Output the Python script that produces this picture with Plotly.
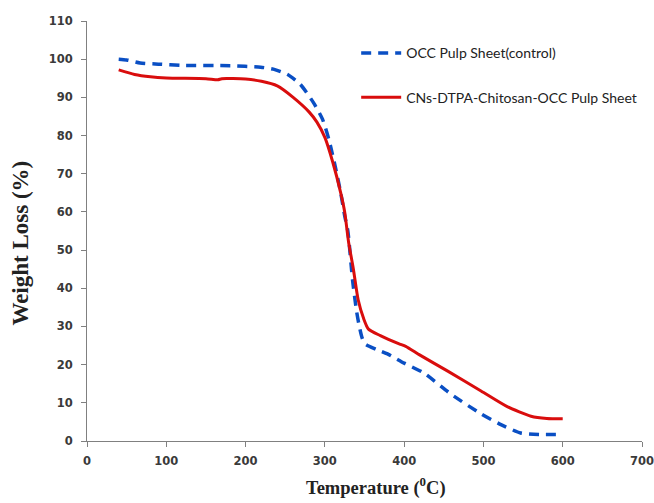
import plotly.graph_objects as go

# Temperature (°C) and weight (%)
t_control = [40, 50, 67, 90, 118, 181, 219, 235, 253, 269, 286, 297, 305, 313, 320, 325, 329, 335, 340, 343, 347, 351, 365, 379, 400, 425, 459, 497, 520, 547, 570, 600]
w_control = [100, 99.8, 99, 98.7, 98.4, 98.3, 97.9, 97.4, 96, 93.4, 88.5, 84.3, 79, 72, 65, 59, 55, 42, 34, 30.5, 27, 25.4, 24, 22.8, 20.4, 17.8, 12.3, 7.1, 4.5, 2.1, 1.7, 1.7]

t_treated = [40, 60, 80, 100, 150, 165, 170, 200, 220, 240, 260, 280, 290, 300, 310, 320, 325, 330, 336, 342, 349, 355, 370, 393, 402, 420, 455, 497, 530, 560, 580, 600]
w_treated = [97.2, 96, 95.4, 95.1, 94.9, 94.6, 94.9, 94.8, 94.2, 93, 90, 86.2, 83.5, 79.5, 73, 65, 60, 52, 45, 37, 32, 29.3, 27.6, 25.5, 24.8, 22.5, 18.3, 13.1, 9, 6.5, 5.9, 5.8]

names = ["OCC Pulp Sheet(control)", "CNs-DTPA-Chitosan-OCC Pulp Sheet"]

x_ticks = [0, 100, 200, 300, 400, 500, 600, 700]
y_ticks = [0, 10, 20, 30, 40, 50, 60, 70, 80, 90, 100, 110]

x_title = "Temperature (<sup>0</sup>C)"
y_title = "Weight Loss (%)"

fig = go.Figure()
fig.add_trace(go.Scatter(x=t_control, y=w_control, mode="lines", name=names[0],
                         legendgroup="a",
                         line=dict(color="#0a4fc4", width=3.5, dash="10px,7px", shape="spline", smoothing=0.6)))
fig.add_trace(go.Scatter(x=t_treated, y=w_treated, mode="lines", name=names[1],
                         legendgroup="b",
                         line=dict(color="#d90d0d", width=3, shape="spline", smoothing=0.6)))

tickfont = dict(family="DejaVu Sans", size=11.5, color="#3a3a3a", weight="bold")
fig.update_layout(
    width=654, height=503,
    margin=dict(l=87, r=12, t=21, b=62),
    paper_bgcolor="white", plot_bgcolor="white",
    showlegend=True,
    legend=dict(x=0.485, y=0.961, xanchor="left", yanchor="top",
                bgcolor="rgba(0,0,0,0)", traceorder="grouped", tracegroupgap=23,
                itemwidth=40,
                font=dict(family="Lato", size=14, color="#222")),
    xaxis=dict(range=[0, 700], tickvals=x_ticks, showgrid=False, zeroline=False,
               showline=True, linecolor="#808080", linewidth=1,
               ticks="outside", ticklen=5, tickcolor="#808080",
               tickfont=tickfont, automargin=False, ticklabeloverflow="allow",
               ticklabelstandoff=4),
    yaxis=dict(range=[0, 110], tickvals=y_ticks, showgrid=False, zeroline=False,
               showline=True, linecolor="#808080", linewidth=1,
               ticks="outside", ticklen=5, tickcolor="#808080",
               tickfont=tickfont, automargin=False, ticklabelstandoff=6),
    annotations=[
        dict(text=x_title, xref="paper", yref="paper", x=0.52, y=-0.108,
             xanchor="center", yanchor="middle", showarrow=False,
             font=dict(family="Liberation Serif", size=18.5, color="#222", weight="bold")),
        dict(text=y_title, xref="paper", yref="paper", x=-0.12, y=0.471,
             xanchor="center", yanchor="middle", showarrow=False, textangle=-90,
             font=dict(family="Liberation Serif", size=23, color="#222", weight="bold")),
    ],
)

fig.write_html("out.html")
